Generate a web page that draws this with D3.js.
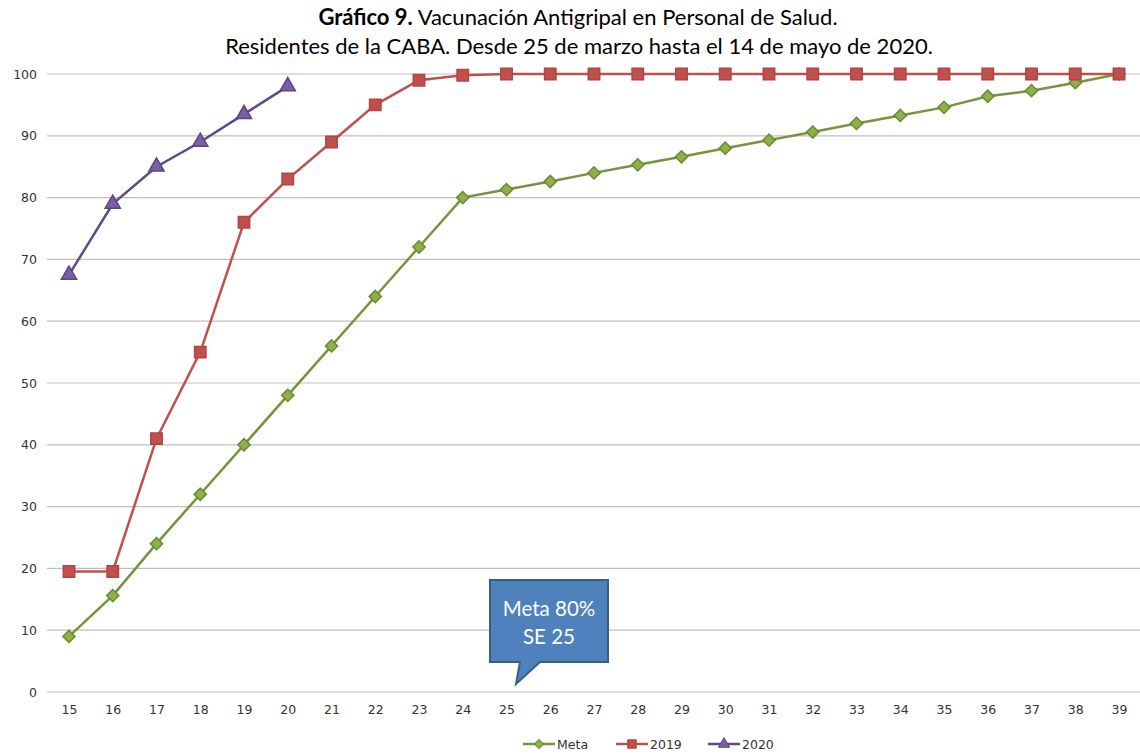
<!DOCTYPE html>
<html>
<head>
<meta charset="utf-8">
<script src="https://cdn.jsdelivr.net/npm/d3@7"></script>
<style>
  body { margin: 0; background: #fff; }
  svg { display: block; }
</style>
</head>
<body>
<div id="container"></div>
<script>
/* data */
var weeks = [15,16,17,18,19,20,21,22,23,24,25,26,27,28,29,30,31,32,33,34,35,36,37,38,39];
var meta = [9,15.6,24,32,40,48,56,64,72,80,81.3,82.6,84,85.3,86.6,88,89.3,90.6,92,93.3,94.6,96.4,97.3,98.6,100];
var y2019 = [19.5,19.5,41,55,76,83,89,95,99,99.8,100,100,100,100,100,100,100,100,100,100,100,100,100,100,100];
var y2020 = [67.5,79,85,89,93.5,98];
var yTicks = [0,10,20,30,40,50,60,70,80,90,100];

var width = 1140, height = 756;

var svg = d3.select("#container").append("svg")
  .attr("width", width).attr("height", height);

var x = d3.scalePoint().domain(weeks).range([69, 1119]);
var y = d3.scaleLinear().domain([0, 100]).range([692, 74]);

/* title */
var title = svg.append("text")
  .attr("x", 578).attr("y", 25)
  .attr("text-anchor", "middle")
  .style("font-family", "Lato, 'Open Sans', sans-serif")
  .style("font-size", "22px").style("fill", "#000");
title.append("tspan").style("font-weight", "bold").text("Gráfico 9.");
title.append("tspan").text(" Vacunación Antigripal en Personal de Salud.");
svg.append("text")
  .attr("x", 579).attr("y", 54)
  .attr("text-anchor", "middle")
  .style("font-family", "Lato, 'Open Sans', sans-serif")
  .style("font-size", "22px").style("fill", "#000")
  .text("Residentes de la CABA. Desde 25 de marzo hasta el 14 de mayo de 2020.");

/* grid + y axis */
svg.append("g").selectAll("line")
  .data(yTicks).enter().append("line")
  .attr("x1", 47).attr("x2", 1140)
  .attr("y1", function(d) { return y(d); })
  .attr("y2", function(d) { return y(d); })
  .style("stroke", "#bfbfbf").style("stroke-width", 1.2);

var yAxis = svg.append("g")
  .attr("transform", "translate(37,0)")
  .call(d3.axisLeft(y).tickValues(yTicks).tickSize(0).tickPadding(0));
yAxis.select(".domain").remove();
yAxis.selectAll("text")
  .style("font-family", "'DejaVu Sans', Verdana, sans-serif")
  .style("font-size", "12.5px").style("fill", "#333");

var xAxis = svg.append("g")
  .attr("transform", "translate(0,705)")
  .call(d3.axisBottom(x).tickSize(0).tickPadding(0));
xAxis.select(".domain").remove();
xAxis.selectAll("text")
  .style("font-family", "'DejaVu Sans', Verdana, sans-serif")
  .style("font-size", "12.5px").style("fill", "#333");

/* series */
var series = [
  { name: "Meta", values: meta, line: "#77933c", fill: "#8db04a", stroke: "#6a8a30", shape: d3.symbolSquare, size: 75, rot: 45 },
  { name: "2019", values: y2019, line: "#c0504d", fill: "#c0504d", stroke: "#b04542", shape: d3.symbolSquare, size: 130, rot: 0 },
  { name: "2020", values: y2020, line: "#5f4a87", fill: "#7a5fa6", stroke: "#5b4684", shape: d3.symbolTriangle, size: 100, rot: 0 }
];

var line = d3.line()
  .x(function(d) { return x(d.w); })
  .y(function(d) { return y(d.v); });

series.forEach(function(s) {
  var pts = s.values.map(function(v, i) { return { w: weeks[i], v: v }; });
  svg.append("path")
    .datum(pts)
    .attr("d", line)
    .style("fill", "none")
    .style("stroke", s.line)
    .style("stroke-width", 2.5);
  svg.append("g").selectAll("path")
    .data(pts).enter().append("path")
    .attr("transform", function(d) { return "translate(" + x(d.w) + "," + y(d.v) + ") rotate(" + s.rot + ")"; })
    .attr("d", d3.symbol().type(s.shape).size(s.size))
    .style("fill", s.fill)
    .style("stroke", s.stroke)
    .style("stroke-width", 1.5);
});

/* callout */
var callout = svg.append("g");
callout.append("path")
  .attr("d", "M490,580 L608,580 L608,662 L540,662 L516,684 L520,662 L490,662 Z")
  .style("fill", "#4f81bd")
  .style("stroke", "#385d8a")
  .style("stroke-width", 2);
callout.append("text")
  .attr("x", 549).attr("y", 616)
  .attr("text-anchor", "middle")
  .style("font-family", "Lato, 'Open Sans', sans-serif")
  .style("font-size", "20.5px").style("fill", "#fff")
  .text("Meta 80%");
callout.append("text")
  .attr("x", 549).attr("y", 644)
  .attr("text-anchor", "middle")
  .style("font-family", "Lato, 'Open Sans', sans-serif")
  .style("font-size", "20.5px").style("fill", "#fff")
  .text("SE 25");

/* legend */
var legendX = [523, 616, 708];
var legend = svg.append("g");
series.forEach(function(s, i) {
  var lx = legendX[i];
  legend.append("line")
    .attr("x1", lx).attr("x2", lx + 32)
    .attr("y1", 744).attr("y2", 744)
    .style("stroke", s.line).style("stroke-width", 2.5);
  legend.append("path")
    .attr("transform", "translate(" + (lx + 16) + ",744) rotate(" + s.rot + ")")
    .attr("d", d3.symbol().type(s.shape).size(s.size * 0.55))
    .style("fill", s.fill).style("stroke", s.stroke).style("stroke-width", 1);
  legend.append("text")
    .attr("x", lx + 34).attr("y", 749)
    .style("font-family", "'DejaVu Sans', Verdana, sans-serif")
    .style("font-size", "12.5px").style("fill", "#333")
    .text(s.name);
});
</script>
</body>
</html>
